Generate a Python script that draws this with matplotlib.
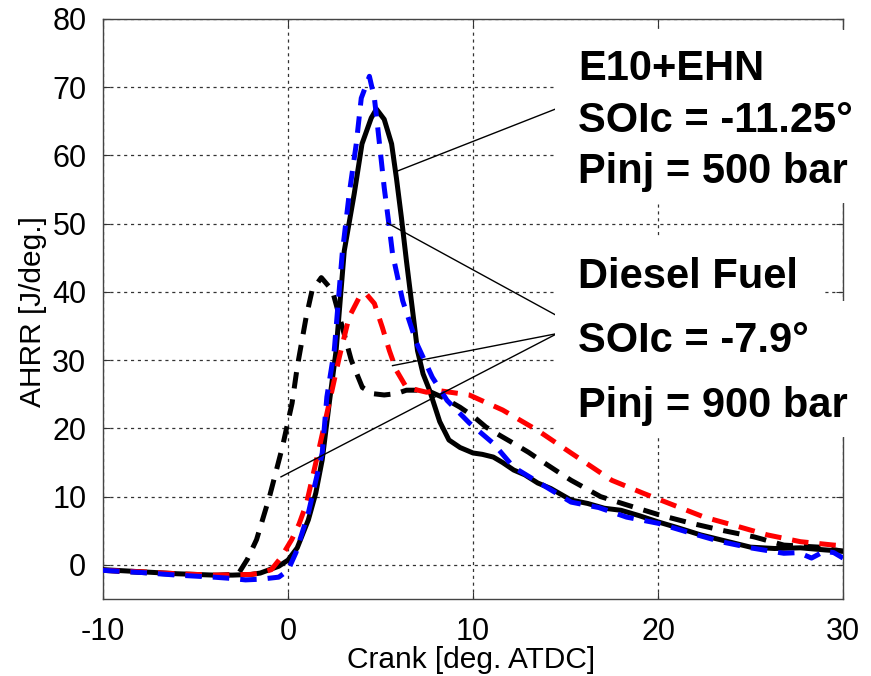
import matplotlib
matplotlib.use("Agg")
import matplotlib.pyplot as plt
from matplotlib.patches import Rectangle

plt.rcParams['font.family'] = ['Liberation Sans', 'DejaVu Sans']
plt.rcParams['axes.unicode_minus'] = False

# E10+EHN, SOIc=-11.25, Pinj=500 bar (black solid)
e10_x = [-10, -8, -6, -4, -3, -2, -1.5, -1, -0.5, 0, 0.5, 1.1, 1.5, 1.85, 2.23, 2.6, 3.04, 3.58, 4.0, 4.5,
         4.78, 5.2, 5.6, 5.86, 6.13, 6.4, 7.0, 7.3, 7.65, 8.2, 8.7, 9.3, 10, 10.5, 11.1, 11.6, 12.2, 12.8,
         13.5, 14.2, 15.3, 16.2, 17.1, 18, 19, 20, 21, 22.3, 23.5, 25, 26.3, 27.7, 29, 30]
e10_y = [-0.7, -1.0, -1.3, -1.5, -1.5, -1.4, -1.2, -0.7, -0.2, 0.7, 2.5, 6.6, 10.5, 15.4, 23.7, 31.4, 46,
         54.4, 61.7, 65.5, 66.8, 65.3, 61.7, 56.7, 50.9, 44.6, 31.4, 28.0, 25.6, 21.0, 18.3, 17.2, 16.4,
         16.2, 15.8, 15.0, 13.9, 13.2, 12.0, 11.2, 9.5, 9.0, 8.3, 8.0, 7.2, 6.3, 5.5, 4.4, 3.6, 2.6, 2.4,
         2.5, 2.2, 2.0]

# Diesel fuel, SOIc=-7.9, Pinj=900 bar (black dashed)
dsl_x = [-10, -8, -6, -4, -3, -2.66, -2.2, -1.7, -1.0, -0.3, 0.22, 0.5, 0.98, 1.3, 1.8, 2.4, 2.88, 3.42,
         4.02, 4.56, 5.2, 5.86, 6.4, 7.5, 8.4, 9.3, 10.0, 10.7, 11.5, 12.2, 13.0, 13.6, 14.5, 15.3, 16.1,
         16.9, 18.3, 20.1, 21.8, 23.4, 25.2, 26.8, 28.7, 30]
dsl_y = [-0.8, -1.1, -1.4, -1.6, -1.4, -1.2, 0.8, 3.7, 10, 17.3, 23.7, 29, 36.3, 40.2, 42.1, 40.2, 35.4,
         30, 26, 25.1, 24.9, 25.1, 25.6, 25.6, 24.5, 23.1, 21.8, 20.2, 18.9, 17.8, 16.5, 15.4, 13.8, 12.4,
         11.2, 10.0, 8.8, 7.3, 6.1, 5.1, 4.1, 2.9, 2.6, 2.0]

# red dashed
red_x = [-10, -8, -6, -4, -2, -1.5, -0.9, -0.4, 0.2, 0.6, 1.0, 1.7, 2.3, 2.77, 3.3, 3.85, 4.2, 4.67,
         5.1, 5.48, 5.86, 6.4, 7.5, 8.0, 9.8, 11.6, 13.5, 15.3, 17.5, 19.2, 20.8, 22.5, 24.1, 25.9, 27.7,
         29.5, 30]
red_y = [-0.8, -1.0, -1.3, -1.5, -1.4, -1.2, -0.7, 1.0, 3.7, 6.0, 9.0, 17.3, 24.6, 30.4, 36.3, 39.2,
         39.8, 38.3, 34.8, 31.4, 28.5, 26.0, 25.3, 25.6, 24.9, 22.7, 19.7, 16.4, 12.4, 10.5, 8.8, 7.0, 5.8,
         4.4, 3.4, 2.9, 2.8]

# blue dashed
blue_x = [-10, -8, -6, -4, -3, -2.3, -1.5, -0.5, 0, 0.43, 1.1, 1.85, 2.1, 2.5, 2.93, 3.31, 3.69, 3.96,
          4.4, 4.67, 4.83, 5.2, 5.48, 5.65, 6.2, 6.95, 7.8, 8.6, 9.8, 11.1, 12.2, 13.6, 15.3, 16.8, 18.3,
          20, 21.6, 23.4, 25, 26.8, 27.6, 28.3, 29.0, 29.5, 30]
blue_y = [-0.8, -1.1, -1.5, -1.8, -2.0, -2.2, -2.1, -1.8, -0.8, 1.8, 7.6, 16.4, 24.6, 31.4, 45.6, 54.4,
          61.7, 68.4, 71.6, 68.4, 64.6, 55.3, 49.4, 45.6, 38.7, 32.5, 27.5, 24.1, 20.8, 17.8, 14.3, 12.0,
          9.2, 8.4, 7.0, 6.1, 4.8, 3.4, 2.5, 1.7, 1.8, 1.0, 2.0, 1.8, 1.0]

x_ticks = [-10, 0, 10, 20, 30]
y_ticks = [0, 10, 20, 30, 40, 50, 60, 70, 80]

# annotation leader lines (data coords): (start, end)
leaders = [((5.9, 57.7), (14.55, 66.9)),
           ((5.37, 50.1), (14.55, 36.5)),
           ((5.65, 29.2), (14.55, 33.9)),
           ((-0.38, 12.9), (14.55, 33.9))]

W, H = 871, 676
fig = plt.figure(figsize=(W / 100, H / 100), dpi=100)
ax = fig.add_axes([103 / W, 1 - 599 / H, (843 - 103) / W, (599 - 19) / H])

lw = 3.6
dash = (0, (3.3, 2.2))
ax.plot(e10_x, e10_y, color='black', lw=lw, solid_capstyle='round', solid_joinstyle='round', zorder=3)
ax.plot(dsl_x, dsl_y, color='black', lw=lw, ls=dash, zorder=4)
ax.plot(red_x, red_y, color='red', lw=lw, ls=dash, zorder=5)
ax.plot(blue_x, blue_y, color='blue', lw=lw, ls=dash, zorder=6)

for (x0, y0), (x1, y1) in leaders:
    ax.plot([x0, x1], [y0, y1], color='black', lw=1.0, zorder=7, clip_on=False)

ax.set_xlim(-10, 30)
ax.set_ylim(-5, 80)
ax.set_xticks(x_ticks)
ax.set_yticks(y_ticks)
ax.tick_params(direction='in', length=5, width=0.8, labelsize=22, top=True, right=True,
               color='#333333')
ax.tick_params(axis='y', pad=12)
ax.tick_params(axis='x', pad=13)
ax.grid(True, color='#333333', ls=(0, (2.5, 3)), lw=0.9)
for s in ax.spines.values():
    s.set_color('#444444')
    s.set_linewidth(1.0)

fig.text(471 / W, 1 - 668 / H, 'Crank [deg. ATDC]', fontsize=21.5, ha='center', va='baseline')
fig.text(33 / W, 1 - 312 / H, 'AHRR [J/deg.]', fontsize=21.5, ha='center', va='center', rotation=90)

# white boxes behind annotation text
for (x0, y0, x1, y1) in [(555, 30, 871, 203), (555, 237, 822, 301), (555, 301, 871, 437)]:
    fig.patches.append(Rectangle((x0 / W, 1 - y1 / H), (x1 - x0) / W, (y1 - y0) / H,
                                 transform=fig.transFigure, facecolor='white', edgecolor='none',
                                 zorder=5))

texts = [('E10+EHN', 80), ('SOIc = -11.25°', 132), ('Pinj = 500 bar', 183),
         ('Diesel Fuel', 288), ('SOIc = -7.9°', 352), ('Pinj = 900 bar', 417)]
for t, yb in texts:
    fig.text(578 / W, 1 - yb / H, t, fontsize=30, fontweight='bold', ha='left', va='baseline',
             zorder=6)

fig.savefig('out.png', dpi=100)
